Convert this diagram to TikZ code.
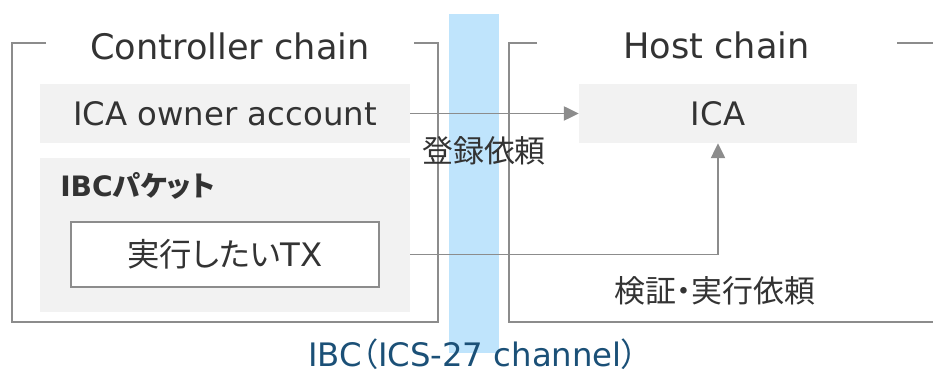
\documentclass[tikz,border=0pt]{standalone}
\usepackage{fontspec}
\setmainfont{DejaVu Sans}
\newfontfamily\jp[RawFeature=+palt]{Noto Sans CJK JP}
\usepackage{xcolor}
\usetikzlibrary{
    arrows.meta,
    positioning,
    calc
}
\definecolor{linegray}{HTML}{8C8C8C}
\definecolor{boxgray}{HTML}{F2F2F2}
\definecolor{inkgray}{HTML}{333333}
\definecolor{chanblue}{HTML}{BFE4FC}
\definecolor{chantext}{HTML}{1B5077}
\tikzset{%
    >={Triangle[width=3.5mm,length=3.7mm]},
    % Specifications for style of nodes:
    plain/.style = {},
    base/.style = {
        plain,
        rectangle, inner sep=0pt,
        text=inkgray, font=\fontsize{23}{27}\selectfont,
        text centered, align=center
    },
    acct/.style = {base, fill=boxgray},
    packet/.style = {base, fill=boxgray},
    txbox/.style = {base, fill=white, draw=linegray, line width=1pt},
    chaintitle/.style = {base, anchor=base, font=\fontsize{25}{30}\selectfont},
    caption/.style = {base, anchor=base, font=\fontsize{22}{26}\selectfont\jp},
    frame/.style = {draw=linegray, line width=1.4pt},
    link/.style = {draw=linegray, line width=1.4pt, ->}
}

\begin{document}
\begin{tikzpicture}
    \useasboundingbox (0,0) rectangle (23.325,9.325);
    % channel band
    \fill[chanblue] (11.225,0.5) rectangle (12.475,8.975);
    % chain frames
    \draw[frame] (1.15,8.25) -- (0.3,8.25) -- (0.3,1.275) -- (10.95,1.275) -- (10.95,8.25) -- (10.35,8.25);
    \draw[frame] (13.425,8.25) -- (12.725,8.25) -- (12.725,1.275) -- (23.325,1.275);
    \draw[frame] (22.425,8.25) -- (23.325,8.25);
    \node[chaintitle] (ctrl) at (5.75,7.825) {Controller chain};
    \node[chaintitle] (host) at (17.91,7.85) {Host chain};
    % boxes
    \node[acct, minimum width=9.25cm, minimum height=1.475cm] (owner) at (5.625,6.4875) {ICA owner account};
    \node[packet, minimum width=9.25cm, minimum height=3.85cm] (pkt) at (5.625,3.45) {};
    \node[base, anchor=base west, font=\fontsize{20}{24}\selectfont\bfseries] (pktlabel) at (1.5,4.4) {IBC{\jp パケット}};
    \node[txbox, minimum width=7.7cm, minimum height=1.625cm] (tx) at (5.625,2.9625) {{\jp 実行したい}TX};
    \node[acct, minimum width=6.95cm, minimum height=1.475cm] (ica) at (17.95,6.4875) {ICA};
    % connectors
    \coordinate (txout) at (pkt.east |- tx.east);
    \draw[link] (owner.east) -- (ica.west);
    \draw[link] (txout) -| (ica.south);
    \node[caption] (reg) at (12.1,5.25) {登録依頼};
    \node[caption] (exec) at (17.875,1.75) {検証・実行依頼};
    \node[base, anchor=base, text=chantext] (chan) at (11.825,0.16) {IBC{\jp（}ICS-27 channel{\jp）}};
\end{tikzpicture}
\end{document}
